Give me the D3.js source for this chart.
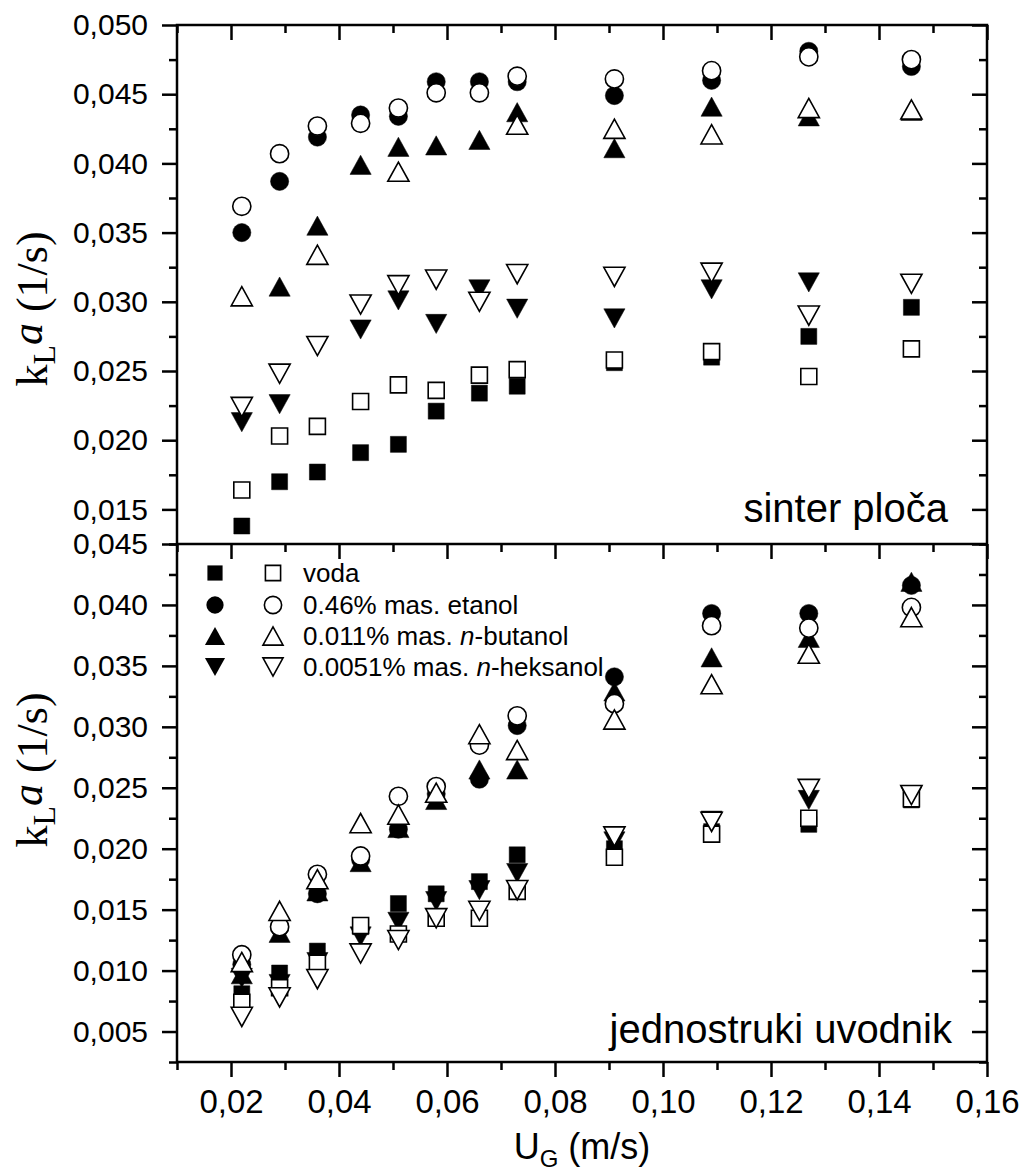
<!DOCTYPE html>
<html>
<head>
<meta charset="utf-8">
<script src="https://cdn.jsdelivr.net/npm/d3@7"></script>
<style>
  body { margin: 0; background: #fff; }
  svg { display: block; }
  .tick text { font-family: "Liberation Sans", Arial, sans-serif; fill: #000; }
  .tick line { stroke: #000; stroke-width: 2.5; }
</style>
</head>
<body>
<div class="graph"></div>
<script>
const width = 1022;
const height = 1172;

// superficial gas velocity (m/s)
const ug = [0.022, 0.029, 0.036, 0.044, 0.051, 0.058, 0.066, 0.073, 0.091, 0.109, 0.127, 0.146];

// sinter ploča, kLa (1/s); F = filled, O = open symbols
const sVodaF = [0.0138, 0.0170, 0.0177, 0.0191, 0.0197, 0.0221, 0.0234, 0.0239, 0.0256, 0.0260, 0.0275, 0.0296];
const sVodaO = [0.0164, 0.0203, 0.0210, 0.0228, 0.0240, 0.0236, 0.0247, 0.0251, 0.0258, 0.0264, 0.0246, 0.0266];
const sEtanolF = [0.0350, 0.0387, 0.0419, 0.0435, 0.0434, 0.0459, 0.0459, 0.0459, 0.0449, 0.0460, 0.0481, 0.0470];
const sEtanolO = [0.0369, 0.0407, 0.0427, 0.0429, 0.0440, 0.0451, 0.0451, 0.0463, 0.0461, 0.0467, 0.0477, 0.0475];
const sButanolF = [null, 0.0311, 0.0355, 0.0399, 0.0412, 0.0413, 0.0417, 0.0437, 0.0411, 0.0441, 0.0434, 0.0438];
const sButanolO = [0.0304, null, 0.0334, null, 0.0394, null, null, 0.0428, 0.0425, 0.0421, 0.0440, 0.0439];
const sHeksanolF = [0.0213, 0.0226, null, 0.0280, 0.0301, 0.0284, 0.0309, 0.0295, 0.0288, 0.0309, 0.0314, null];
const sHeksanolO = [0.0224, 0.0248, 0.0268, 0.0298, 0.0312, 0.0316, 0.0300, 0.0320, 0.0318, 0.0321, 0.0290, 0.0313];

// jednostruki uvodnik
const jVodaF = [0.0081, 0.0098, 0.0116, 0.0136, 0.0155, 0.0163, 0.0173, 0.0195, 0.0200, 0.0214, 0.0220, 0.0240];
const jVodaO = [0.0074, 0.0086, 0.0106, 0.0137, 0.0130, 0.0143, 0.0143, 0.0165, 0.0193, 0.0212, 0.0225, 0.0241];
const jEtanolF = [0.0105, 0.0135, 0.0163, 0.0191, 0.0216, 0.0245, 0.0257, 0.0301, 0.0341, 0.0393, 0.0393, 0.0416];
const jEtanolO = [0.0113, 0.0136, 0.0179, 0.0194, 0.0243, 0.0251, 0.0285, 0.0309, 0.0319, 0.0383, 0.0381, 0.0398];
const jButanolF = [0.0097, 0.0131, 0.0165, 0.0189, 0.0217, 0.0240, 0.0265, 0.0265, 0.0329, 0.0357, 0.0373, 0.0419];
const jButanolO = [0.0107, 0.0149, 0.0175, 0.0221, 0.0228, 0.0246, 0.0294, 0.0281, 0.0306, 0.0335, 0.0360, 0.0390];
const jHeksanolF = [0.0094, 0.0089, 0.0107, 0.0128, 0.0140, 0.0157, 0.0166, 0.0180, 0.0206, 0.0223, 0.0240, 0.0243];
const jHeksanolO = [0.0062, 0.0078, 0.0093, 0.0114, 0.0125, 0.0143, 0.0149, 0.0166, 0.0210, 0.0222, 0.0249, 0.0244];

const legendLabels = ['voda', '0.46% mas. etanol', '0.011% mas. n-butanol', '0.0051% mas. n-heksanol'];

const left = 177;
const right = 987;
const majorTick = 15;
const minorTick = 8;
const lineWidth = 2.5;

// bbox-centred triangles, like the plotting program draws them
const triUp = {
  draw(ctx, size) {
    const s = Math.sqrt(size);
    const w = s * 0.53, h = s * 0.48;
    ctx.moveTo(0, -h); ctx.lineTo(w, h); ctx.lineTo(-w, h); ctx.closePath();
  }
};
const triDown = {
  draw(ctx, size) {
    const s = Math.sqrt(size);
    const w = s * 0.53, h = s * 0.48;
    ctx.moveTo(-w, -h); ctx.lineTo(w, -h); ctx.lineTo(0, h); ctx.closePath();
  }
};

const shapes = [
  { type: d3.symbolSquare, size: 256 },
  { type: d3.symbolCircle, size: 260 },
  { type: triUp, size: 400 },
  { type: triDown, size: 400 },
];

const panels = [
  {
    name: 'sinter ploča', top: 25, bottom: 544, domain: [0.0125, 0.050],
    labels: d3.range(0.015, 0.0501, 0.005), labelY: 309, textBase: 522,
    filled: [sVodaF, sEtanolF, sButanolF, sHeksanolF],
    open: [sVodaO, sEtanolO, sButanolO, sHeksanolO],
  },
  {
    name: 'jednostruki uvodnik', top: 544, bottom: 1062, domain: [0.0025, 0.045],
    labels: d3.range(0.005, 0.0451, 0.005), labelY: 770, textBase: 1043,
    filled: [jVodaF, jEtanolF, jButanolF, jHeksanolF],
    open: [jVodaO, jEtanolO, jButanolO, jHeksanolO],
  },
];

const x = d3.scaleLinear().domain([0.01, 0.16]).range([left, right]);
const fmt = f => v => d3.format(f)(v).replace('.', ',');

const svg = d3.select('.graph')
  .append('svg')
    .attr('width', width)
    .attr('height', height)
    .attr('viewBox', [0, 0, width, height]);

svg.append('rect').attr('width', width).attr('height', height).attr('fill', '#fff');

const xMajor = d3.range(0.02, 0.1601, 0.02);
const xMinor = d3.range(0.01, 0.1501, 0.02);

panels.forEach((p, pi) => {
  const y = d3.scaleLinear().domain(p.domain).range([p.bottom, p.top]);
  const yMinor = d3.range(p.domain[0], p.domain[1] + 1e-6, 0.0025)
    .filter(v => !p.labels.some(l => Math.abs(l - v) < 1e-6));

  const g = svg.append('g');

  // left axis, outward ticks with labels
  g.append('g')
    .attr('transform', `translate(${left},0)`)
    .call(d3.axisLeft(y).tickValues(p.labels).tickSize(majorTick).tickPadding(14).tickFormat(fmt('.3f')))
    .call(a => a.select('.domain').remove())
    .call(a => a.selectAll('text').attr('font-size', 30));
  g.append('g')
    .attr('transform', `translate(${left},0)`)
    .call(d3.axisLeft(y).tickValues(yMinor).tickSize(minorTick).tickFormat(''))
    .call(a => a.select('.domain').remove());

  // right axis, inward ticks
  g.append('g')
    .attr('transform', `translate(${right},0)`)
    .call(d3.axisLeft(y).tickValues(p.labels).tickSize(majorTick).tickFormat(''))
    .call(a => a.select('.domain').remove());
  g.append('g')
    .attr('transform', `translate(${right},0)`)
    .call(d3.axisLeft(y).tickValues(yMinor).tickSize(minorTick).tickFormat(''))
    .call(a => a.select('.domain').remove());

  // top edge, inward ticks
  g.append('g')
    .attr('transform', `translate(0,${p.top})`)
    .call(d3.axisBottom(x).tickValues(xMajor).tickSize(majorTick).tickFormat(''))
    .call(a => a.select('.domain').remove());
  g.append('g')
    .attr('transform', `translate(0,${p.top})`)
    .call(d3.axisBottom(x).tickValues(xMinor).tickSize(minorTick).tickFormat(''))
    .call(a => a.select('.domain').remove());

  // points: filled first, open ones on top
  const layers = [
    ...p.filled.map((vals, i) => ({ vals, shape: shapes[i], open: false })),
    ...p.open.map((vals, i) => ({ vals, shape: shapes[i], open: true })),
  ];
  layers.forEach(layer => {
    const pts = ug.map((u, i) => ({ u, v: layer.vals[i] })).filter(d => d.v != null);
    g.append('g')
      .selectAll('path')
      .data(pts)
      .enter().append('path')
        .attr('d', d3.symbol().type(layer.shape.type).size(layer.shape.size))
        .attr('transform', d => `translate(${x(d.u)},${y(d.v)})`)
        .attr('fill', layer.open ? '#fff' : '#000')
        .attr('stroke', '#000')
        .attr('stroke-width', layer.open ? 1.6 : 0.5);
  });

  // y label
  const yl = g.append('text')
    .attr('transform', `translate(47,${p.labelY}) rotate(-90)`)
    .attr('text-anchor', 'middle')
    .attr('font-family', '"Liberation Serif", "Times New Roman", serif')
    .attr('font-size', 44);
  yl.append('tspan').text('k');
  yl.append('tspan').attr('font-size', 32).attr('dy', 8).text('L');
  yl.append('tspan').attr('font-style', 'italic').attr('dy', -13).text('a');
  yl.append('tspan').attr('dy', 5).text(' (1/s)');

  // panel name
  g.append('text')
    .attr('x', pi === 0 ? 948 : 952)
    .attr('y', p.textBase)
    .attr('text-anchor', 'end')
    .attr('font-family', '"Liberation Sans", Arial, sans-serif')
    .attr('font-size', 40)
    .text(p.name);
});

// bottom x axis, outward
const xBottom = 1062;
svg.append('g')
  .attr('transform', `translate(0,${xBottom})`)
  .call(d3.axisBottom(x).tickValues(xMajor).tickSize(majorTick).tickPadding(13).tickFormat(fmt('.2f')))
  .call(a => a.select('.domain').remove())
  .call(a => a.selectAll('text').attr('font-size', 33));
svg.append('g')
  .attr('transform', `translate(0,${xBottom})`)
  .call(d3.axisBottom(x).tickValues(xMinor).tickSize(minorTick).tickFormat(''))
  .call(a => a.select('.domain').remove());

// frame
svg.append('rect')
  .attr('x', left).attr('y', 25)
  .attr('width', right - left).attr('height', xBottom - 25)
  .attr('fill', 'none').attr('stroke', '#000').attr('stroke-width', lineWidth);
svg.append('line')
  .attr('x1', left).attr('x2', right).attr('y1', 544).attr('y2', 544)
  .attr('stroke', '#000').attr('stroke-width', lineWidth);

// x label
const xl = svg.append('text')
  .attr('x', (left + right) / 2)
  .attr('y', 1159)
  .attr('text-anchor', 'middle')
  .attr('font-family', '"Liberation Sans", Arial, sans-serif')
  .attr('font-size', 36);
xl.append('tspan').text('U');
xl.append('tspan').attr('font-size', 24).attr('dy', 8).text('G');
xl.append('tspan').attr('dy', -8).text(' (m/s)');

// legend
const legend = svg.append('g')
  .attr('font-family', '"Liberation Sans", Arial, sans-serif')
  .attr('font-size', 26);
const rowY = [573, 605, 636, 667];
legendLabels.forEach((label, i) => {
  const row = legend.append('g').attr('transform', `translate(0,${rowY[i]})`);
  row.append('path')
    .attr('d', d3.symbol().type(shapes[i].type).size(shapes[i].size * 0.9))
    .attr('transform', 'translate(215,0)')
    .attr('fill', '#000');
  row.append('path')
    .attr('d', d3.symbol().type(shapes[i].type).size(shapes[i].size * 0.9))
    .attr('transform', 'translate(273,0)')
    .attr('fill', '#fff').attr('stroke', '#000').attr('stroke-width', 1.6);
  const t = row.append('text').attr('x', 303).attr('y', 9);
  const m = label.match(/^(.*)n-(.*)$/);
  if (m) {
    t.append('tspan').text(m[1]);
    t.append('tspan').attr('font-style', 'italic').text('n');
    t.append('tspan').text('-' + m[2]);
  } else {
    t.text(label);
  }
});
</script>
</body>
</html>
